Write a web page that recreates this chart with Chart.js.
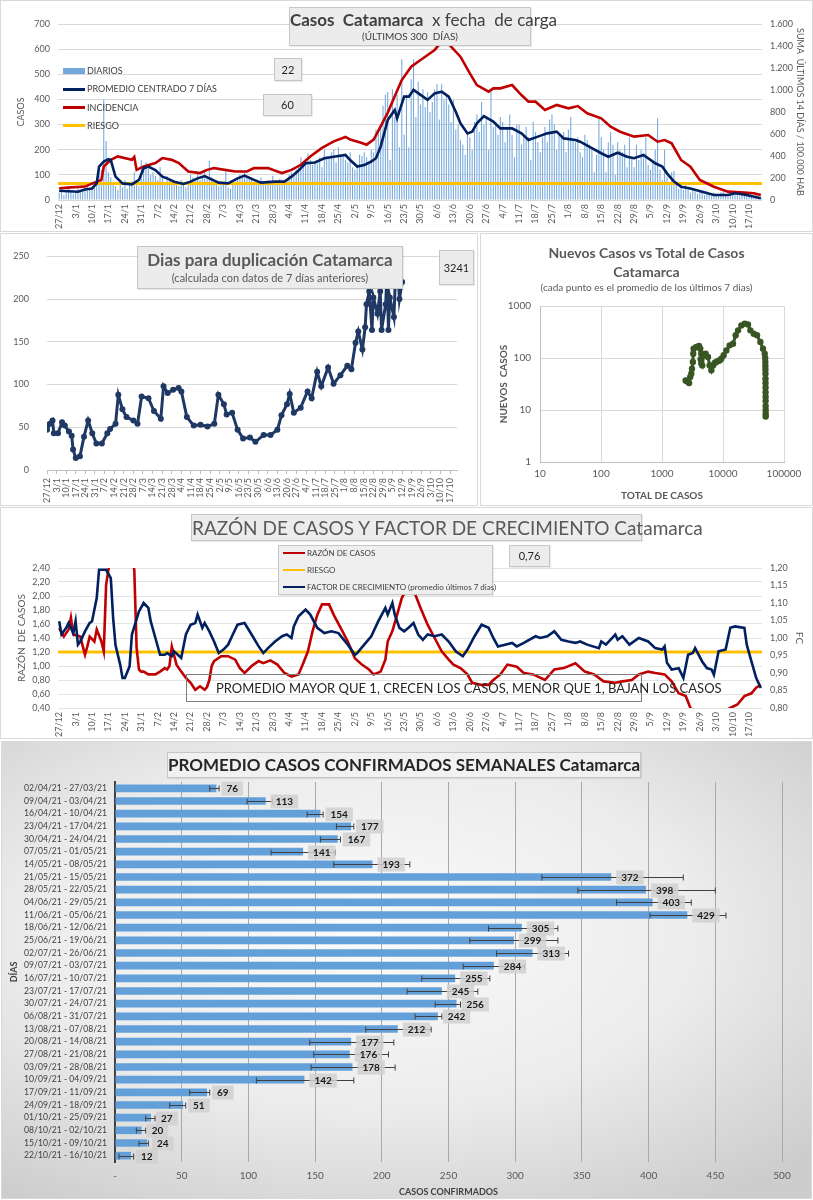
<!DOCTYPE html>
<html lang="es">
<head>
<meta charset="utf-8">
<title>Casos Catamarca</title>
<script src="https://cdn.jsdelivr.net/npm/chart.js@4.4.1/dist/chart.umd.min.js"></script>
<style>
  body { margin: 0; width: 813px; height: 1200px; position: relative; background: #fff; overflow: hidden;
         font-family: Lato, "Open Sans", sans-serif; color: #404040; }
  .panel { position: absolute; background: #fff; outline: 1px solid #d9d9d9; outline-offset: -1px; }
  .panel canvas { position: absolute; left: 0; top: 0; }
  .caja { position: absolute; box-sizing: border-box; background: #ececec; border: 1px solid #c6c6c6;
          text-align: center; white-space: nowrap; box-shadow: 1px 1px 1px rgba(0,0,0,0.08); }
  .txt { position: absolute; white-space: nowrap; }
  .sim { position: absolute; }
  .ley { position: absolute; white-space: nowrap; font-size: 9px; line-height: 10px; color: #404040; }
</style>
</head>
<body>

<div class="panel" style="left:0;top:0;width:813px;height:232px"><canvas id="gCasos" width="813" height="232"></canvas></div>
<div class="panel" style="left:0;top:233px;width:478px;height:273px"><canvas id="gDup" width="478" height="273"></canvas></div>
<div class="panel" style="left:480px;top:233px;width:333px;height:273px"><canvas id="gDisp" width="333" height="273"></canvas></div>
<div class="panel" style="left:0;top:507px;width:813px;height:232px"><canvas id="gRazon" width="813" height="232"></canvas></div>
<div class="panel" style="left:1px;top:741px;width:811px;height:458px;background:radial-gradient(ellipse 75% 70% at 45% 42%, #fbfbfb 0%, #ececec 55%, #cdcdcd 100%)"><canvas id="gSem" width="811" height="458"></canvas></div>

<!-- grafico 1 -->
<div class="caja" style="left:289px;top:7px;width:242px;height:39px">
  <div style="font-size:17px;line-height:20px;margin-top:2px;color:#404040"><b>Casos&nbsp; Catamarca</b>&nbsp; x fecha&nbsp; de carga</div>
  <div style="font-size:10px;line-height:12px">(ÚLTIMOS 300&nbsp; DÍAS)</div>
</div>
<div class="caja" style="left:274px;top:58px;width:28px;height:23px;font-size:11px;line-height:21px;color:#262626">22</div>
<div class="caja" style="left:263px;top:94px;width:49px;height:22px;font-size:11px;line-height:20px;color:#262626">60</div>
<div class="sim" style="left:63px;top:68px;width:22px;height:6px;background:#74a8dc"></div>
<div class="ley" style="left:87px;top:66px">DIARIOS</div>
<div class="sim" style="left:63px;top:88px;width:22px;height:3px;background:#002060"></div>
<div class="ley" style="left:87px;top:84px">PROMEDIO CENTRADO 7 DÍAS</div>
<div class="sim" style="left:63px;top:106px;width:22px;height:3px;background:#c00000"></div>
<div class="ley" style="left:87px;top:103px">INCIDENCIA</div>
<div class="sim" style="left:63px;top:124px;width:22px;height:3px;background:#ffc000"></div>
<div class="ley" style="left:87px;top:121px">RIESGO</div>

<!-- grafico 2 -->
<div class="caja" style="left:137px;top:246px;width:266px;height:43px;color:#595959">
  <div style="font-size:17px;line-height:22px;margin-top:2px;font-weight:bold">Dias para duplicación Catamarca</div>
  <div style="font-size:11px;line-height:13px">(calculada con datos de 7 días anteriores)</div>
</div>
<div class="caja" style="left:439px;top:250px;width:35px;height:35px;font-size:11px;line-height:33px;color:#262626">3241</div>

<!-- grafico 3 -->
<div class="txt" style="left:480px;width:333px;top:244px;text-align:center;font-size:14px;line-height:18px;font-weight:bold;color:#595959">Nuevos Casos vs Total de Casos</div>
<div class="txt" style="left:480px;width:333px;top:263px;text-align:center;font-size:14px;line-height:18px;font-weight:bold;color:#595959">Catamarca</div>
<div class="txt" style="left:480px;width:333px;top:281px;text-align:center;font-size:10px;line-height:12px;color:#595959">(cada punto es el promedio de los últimos 7 dias)</div>

<!-- grafico 4 -->
<div class="caja" style="left:191px;top:514px;width:451px;height:27px;font-size:19px;line-height:25px;color:#595959">RAZÓN DE CASOS Y FACTOR DE CRECIMIENTO Catamarca</div>
<div class="caja" style="left:278px;top:545px;width:215px;height:50px;background:#efefef"></div>
<div class="sim" style="left:283px;top:552px;width:22px;height:2px;background:#c00000"></div>
<div class="ley" style="left:307px;top:548px;font-size:8px">RAZÓN DE CASOS</div>
<div class="sim" style="left:283px;top:569px;width:22px;height:2px;background:#ffc000"></div>
<div class="ley" style="left:307px;top:565px;font-size:8px">RIESGO</div>
<div class="sim" style="left:283px;top:586px;width:22px;height:2px;background:#002060"></div>
<div class="ley" style="left:307px;top:582px;font-size:8px">FACTOR DE CRECIMIENTO (promedio últimos 7 dias)</div>
<div class="caja" style="left:509px;top:545px;width:41px;height:22px;font-size:11px;line-height:20px;color:#262626">0,76</div>
<div class="txt" style="left:186px;top:674px;width:456px;height:28px;box-sizing:border-box;border:1px solid #7f7f7f;font-size:13px;line-height:26px;padding-left:29px;color:#262626">PROMEDIO MAYOR QUE 1, CRECEN LOS CASOS, MENOR QUE 1, BAJAN LOS CASOS</div>

<!-- grafico 5 -->
<div class="caja" style="left:167px;top:752px;width:474px;height:26px;font-size:17px;line-height:24px;font-weight:bold;color:#262626;background:rgba(242,242,242,0.85)">PROMEDIO CASOS CONFIRMADOS SEMANALES Catamarca</div>

<script>
// etiquetas semanales del eje de fechas (día 0 = 27/12)
const semanas = ['27/12','3/1','10/1','17/1','24/1','31/1','7/2','14/2','21/2','28/2','7/3','14/3','21/3','28/3',
  '4/4','11/4','18/4','25/4','2/5','9/5','16/5','23/5','30/5','6/6','13/6','20/6','27/6','4/7','11/7','18/7',
  '25/7','1/8','8/8','15/8','22/8','29/8','5/9','12/9','19/9','26/9','3/10','10/10','17/10'];

// casos diarios (300 días)
const diarios = [
  30,45,20,40,55,35,25,  30,55,40,35,50,60,45,  50,60,90,130,120,400,235,  110,90,60,55,40,70,50,
  80,45,60,75,110,65,55,  160,120,150,140,100,110,95,  80,130,90,65,95,85,70,  75,60,55,80,70,50,65,
  100,90,75,110,80,95,115,  85,155,90,60,70,55,65,  60,115,50,45,80,75,85,  100,95,110,90,85,80,70,
  60,75,90,65,75,80,70,  95,70,60,85,70,75,80,  100,110,95,120,130,170,140,  150,185,160,140,150,145,170,
  130,200,175,165,190,200,150,  210,180,175,160,150,190,130,  120,140,180,175,190,170,150,
  200,190,280,270,300,375,420,  430,160,440,330,420,210,560,  260,420,210,480,560,330,470,
  380,440,370,430,350,390,440,  460,320,460,400,420,380,310,  400,280,300,240,220,180,260,
  250,200,310,340,270,390,300,  330,200,440,290,300,260,330,  310,230,280,340,260,170,300,
  300,220,260,290,250,160,310,  270,230,190,250,290,230,320,  340,300,200,260,250,270,190,
  280,330,240,230,250,190,170,  260,240,220,200,110,180,330,  250,200,110,230,270,220,100,
  230,200,190,220,130,250,170,  130,220,160,200,180,250,140,  120,160,200,325,120,80,200,
  90,60,110,115,70,45,50,  40,60,50,30,45,35,25,  40,30,20,35,25,15,30,  25,20,30,35,20,15,25,
  30,20,25,15,35,25,20,  20,15,10,25,10,12];

// [día, valor]
const promedio7 = [[0,37],[8,33],[11,42],[14,46],[16,66],[17,133],[19,153],[21,162],[22,159],[24,93],[27,66],[31,62],
  [34,80],[36,126],[38,133],[41,119],[44,93],[46,86],[49,73],[53,64],[56,73],[59,86],[62,95],[64,86],[68,69],[72,66],
  [76,86],[79,97],[83,80],[86,69],[92,73],[96,73],[99,93],[102,117],[105,146],[109,149],[113,166],[117,172],[122,179],
  [124,159],[127,133],[130,139],[133,153],[135,166],[137,212],[140,318],[143,358],[144,325],[147,411],[149,411],
  [151,438],[154,418],[157,398],[160,424],[163,431],[166,411],[169,351],[171,305],[174,265],[176,272],[178,305],
  [181,334],[185,312],[188,285],[193,285],[197,265],[200,239],[204,252],[208,265],[212,272],[215,245],[220,239],
  [222,232],[227,206],[231,186],[234,172],[238,188],[242,172],[245,166],[249,179],[254,146],[257,133],[259,106],
  [262,73],[265,53],[269,46],[274,33],[279,20],[285,20],[288,27],[293,20],[299,7]];

const incidencia = [[0,107],[5,115],[11,122],[15,158],[18,183],[19,305],[22,365],[25,396],[31,365],[32,391],[33,274],
  [36,305],[41,336],[44,381],[48,365],[51,336],[55,259],[60,245],[63,274],[66,290],[75,259],[80,259],[83,290],[89,290],
  [93,259],[95,245],[99,274],[103,320],[107,396],[112,473],[117,533],[122,573],[124,549],[129,519],[131,503],[134,549],
  [137,670],[140,793],[143,944],[146,1090],[150,1212],[154,1273],[160,1364],[163,1440],[165,1450],[167,1394],[171,1303],
  [175,1151],[178,1045],[183,985],[185,1015],[188,1015],[193,1045],[197,954],[200,894],[203,894],[207,818],[212,864],
  [217,833],[221,854],[225,788],[231,742],[235,667],[239,621],[245,576],[251,591],[255,530],[258,545],[261,515],
  [265,364],[269,303],[273,182],[279,121],[285,76],[292,67],[296,61],[299,45]];
const riesgoIncidencia = 150;

const duplicacion = [[0,47],[2,54],[4,58],[5,43],[8,43],[11,56],[13,52],[16,45],[18,40],[19,24],[21,14],[24,16],[27,39],
  [30,58],[33,43],[36,31],[40,31],[44,43],[46,48],[50,54],[52,88],[55,71],[58,62],[63,58],[66,54],[69,86],[74,84],
  [78,69],[83,60],[85,98],[88,90],[92,94],[96,96],[98,92],[102,62],[107,52],[112,53],[117,51],[122,54],[125,88],
  [129,77],[131,65],[135,67],[139,47],[143,37],[148,38],[152,33],[158,41],[163,41],[168,47],[171,64],[175,77],
  [177,89],[180,67],[185,73],[190,92],[193,84],[197,115],[200,98],[205,120],[209,101],[214,111],[219,122],[222,118],
  [225,149],[227,162],[230,141],[232,167],[233,194],[235,209],[237,164],[238,202],[241,183],[243,209],[244,164],
  [247,194],[248,232],[249,164],[250,202],[253,179],[255,260],[257,200],[259,220]];

const totalCasos = [2440,2560,2660,2780,2900,3020,3100,3210,3250,3300,3650,4040,4240,4400,4300,4400,4570,4820,5190,
  5670,6040,6440,6850,7300,7770,8300,8820,9390,10250,11340,12860,14600,16140,17660,20000,22700,25700,28100,31900,
  36100,41000,45300,48300,49200,49400,49500,49600,49700,49750,49800,49850,49900,49950,50000,50030,50060,50100,50120];
const nuevosCasos = [37,36,35,33,43,50,62,84,121,151,163,170,151,121,95,78,72,113,121,105,72,58,72,80,84,88,90,97,
  113,140,175,188,273,340,424,458,443,340,293,273,203,151,121,100,84,70,60,50,40,33,27,22,18,15,12,10,8.5,7.5];
const ticksTotal = [10,100,1000,10000,100000];
const ticksNuevos = [1,10,100,1000];

const razon = [[0,1.54],[2,1.42],[4,1.52],[5,1.69],[6,1.45],[9,1.42],[11,1.16],[12,1.28],[13,1.42],[15,1.35],[16,1.52],
  [18,1.35],[19,1.21],[20,2.16],[21,2.38],[23,2.8],[29,2.8],[31,2.5],[32,2.38],[33,1.26],[34,0.95],[35,0.92],[36,0.92],
  [38,0.88],[41,0.88],[43,0.92],[45,0.97],[46,0.95],[47,1.0],[48,1.28],[49,1.15],[50,1.02],[52,0.92],[54,0.83],[56,0.76],
  [58,0.66],[60,0.71],[62,0.66],[63,0.7],[64,0.8],[65,1.0],[66,1.07],[69,1.14],[72,1.14],[75,1.09],[77,0.97],[79,0.9],
  [82,1.0],[85,1.07],[87,1.04],[90,1.08],[93,1.02],[96,0.9],[99,0.85],[102,0.88],[104,1.04],[106,1.21],[108,1.5],
  [110,1.73],[112,1.88],[115,1.88],[117,1.73],[120,1.54],[123,1.35],[126,1.11],[129,1.02],[132,0.95],[134,0.88],
  [137,0.92],[139,1.09],[140,1.35],[142,1.5],[144,1.73],[146,1.97],[148,2.1],[150,2.2],[152,2.0],[154,1.83],[157,1.59],
  [160,1.4],[163,1.21],[166,1.09],[168,1.02],[171,0.97],[174,0.88],[176,0.76],[180,0.73],[183,0.73],[185,0.8],[188,0.88],
  [191,1.02],[195,0.99],[198,0.9],[202,0.88],[207,0.8],[211,0.95],[215,0.97],[220,1.04],[224,0.92],[228,0.88],[232,0.78],
  [237,0.76],[240,0.78],[244,0.8],[247,0.88],[251,0.92],[254,0.9],[258,0.88],[261,0.78],[264,0.61],[267,0.57],[269,0.4],
  [272,0.32],[280,0.3],[286,0.4],[289,0.45],[292,0.57],[295,0.61],[297,0.69],[299,0.73]];

const factorCrec = [[0,1.048],[1,1.01],[3,1.029],[4,1.043],[6,1.014],[7,1.048],[8,0.981],[9,0.99],[11,1.019],[13,1.043],
  [14,1.048],[16,1.114],[17,1.195],[20,1.195],[22,1.171],[23,1.057],[24,0.98],[26,0.924],[27,0.886],[28,0.886],[30,0.919],
  [31,1.01],[34,1.076],[36,1.1],[38,1.086],[39,1.048],[41,1.0],[43,0.952],[45,0.952],[46,0.957],[48,0.948],[49,0.962],
  [52,0.943],[54,1.01],[56,1.038],[58,1.043],[59,1.067],[61,1.029],[62,1.043],[64,1.019],[66,0.99],[68,0.957],[70,0.967],
  [72,0.981],[74,1.01],[76,1.038],[79,1.043],[82,1.01],[85,0.976],[87,0.957],[89,0.971],[92,0.99],[95,1.005],[97,1.01],
  [99,1.0],[100,1.033],[102,1.062],[105,1.081],[107,1.067],[110,1.029],[113,1.014],[116,1.019],[119,1.014],[123,0.981],
  [126,0.952],[127,0.957],[130,0.981],[133,1.005],[136,1.048],[139,1.086],[140,1.067],[142,1.1],[143,1.067],[145,1.029],
  [147,1.019],[149,1.03],[151,1.043],[153,1.01],[155,0.995],[157,1.01],[160,1.005],[163,1.01],[166,0.99],[169,0.962],
  [172,0.948],[174,0.967],[177,1.005],[180,1.038],[183,1.029],[185,1.0],[187,0.976],[190,0.981],[193,0.986],[195,0.976],
  [198,0.986],[203,1.005],[205,1.0],[208,1.005],[211,1.019],[214,0.995],[217,0.99],[220,0.986],[222,0.99],[225,0.981],
  [230,0.971],[231,0.99],[233,0.981],[237,1.01],[238,0.995],[240,1.005],[243,0.981],[247,1.0],[251,0.99],[254,0.971],
  [257,0.967],[258,0.976],[259,0.929],[261,0.91],[264,0.914],[266,0.886],[268,0.952],[270,0.957],[271,0.971],[274,0.933],
  [276,0.914],[278,0.91],[279,0.895],[281,0.962],[284,0.967],[286,1.029],[288,1.033],[292,1.029],[293,0.981],[295,0.933],
  [297,0.886],[299,0.857]];
const riesgoRazon = 1.2;
const ticksRazon = [0.4,0.6,0.8,1.0,1.2,1.4,1.6,1.8,2.0,2.2,2.4];
const ticksFC = [0.80,0.85,0.90,0.95,1.00,1.05,1.10,1.15,1.20];

// promedios semanales
const semanasBarras = ['02/04/21 - 27/03/21','09/04/21 - 03/04/21','16/04/21 - 10/04/21','23/04/21 - 17/04/21',
  '30/04/21 - 24/04/21','07/05/21 - 01/05/21','14/05/21 - 08/05/21','21/05/21 - 15/05/21','28/05/21 - 22/05/21',
  '04/06/21 - 29/05/21','11/06/21 - 05/06/21','18/06/21 - 12/06/21','25/06/21 - 19/06/21','02/07/21 - 26/06/21',
  '09/07/21 - 03/07/21','16/07/21 - 10/07/21','23/07/21 - 17/07/21','30/07/21 - 24/07/21','06/08/21 - 31/07/21',
  '13/08/21 - 07/08/21','20/08/21 - 14/08/21','27/08/21 - 21/08/21','03/09/21 - 28/08/21','10/09/21 - 04/09/21',
  '17/09/21 - 11/09/21','24/09/21 - 18/09/21','01/10/21 - 25/09/21','08/10/21 - 02/10/21','15/10/21 - 09/10/21',
  '22/10/21 - 16/10/21'];
const promedios = [76,113,154,177,167,141,193,372,398,403,429,305,299,313,284,255,245,256,242,212,177,176,178,142,69,51,27,20,24,12];
const errBajo = [71,99,144,166,154,117,164,320,347,376,401,280,266,286,261,230,219,240,225,188,146,149,147,106,56,41,23,16,18,3];
const errAlto = [78,118,156,179,169,165,221,426,450,432,458,332,332,340,307,281,272,259,245,237,209,205,210,179,71,53,30,23,25,14];

Chart.defaults.font.family = 'Lato, "Open Sans", sans-serif';
Chart.defaults.color = '#595959';
Chart.defaults.animation = false;
Chart.defaults.responsive = false;
Chart.defaults.plugins.legend.display = false;
Chart.defaults.plugins.tooltip.enabled = false;

const pares = arr => arr.map(([x, y]) => ({ x, y }));
const fijarAncho = w => s => { s.width = w; };
const fijarAlto = h => s => { s.height = h; };
const ticksFijos = vals => s => { s.ticks = vals.map(v => ({ value: v })); };
const ticksSemanales = ticksFijos(semanas.map((_, i) => i * 7));
const miles = v => v >= 1000 ? Math.floor(v / 1000) + '.' + String(v % 1000).padStart(3, '0') : String(v);
const coma = v => v.toFixed(2).replace('.', ',');

const ejeFechas = alto => ({
  type: 'linear', min: -0.5, max: 299.5, offset: false,
  grid: { display: false, drawTicks: false }, border: { display: false },
  afterBuildTicks: ticksSemanales, afterFit: fijarAlto(alto),
  ticks: { autoSkip: false, minRotation: 90, maxRotation: 90, padding: 4, font: { size: 9 }, callback: (v, i) => semanas[i] }
});

// Casos x fecha de carga
new Chart(document.getElementById('gCasos'), {
  type: 'bar',
  data: {
    datasets: [
      { type: 'line', data: pares(promedio7), yAxisID: 'y', borderColor: '#002060', borderWidth: 2.6, pointRadius: 0, order: 1 },
      { type: 'line', data: pares(incidencia), yAxisID: 'y2', borderColor: '#c00000', borderWidth: 2.6, pointRadius: 0, order: 2 },
      { type: 'line', data: [{ x: -0.5, y: riesgoIncidencia }, { x: 299.5, y: riesgoIncidencia }], yAxisID: 'y2',
        borderColor: '#ffc000', borderWidth: 3, pointRadius: 0, order: 3 },
      { data: diarios.map((v, i) => ({ x: i, y: v })), yAxisID: 'y', backgroundColor: '#74a8dc',
        barPercentage: 0.45, categoryPercentage: 1, order: 4 }
    ]
  },
  options: {
    layout: { padding: { left: 12, right: 4, top: 24, bottom: 0 } },
    scales: {
      x: ejeFechas(32),
      y: { position: 'left', min: 0, max: 700, ticks: { stepSize: 100, padding: 8, font: { size: 9 } },
           grid: { color: '#d9d9d9', drawTicks: false }, border: { display: false },
           title: { display: true, text: 'CASOS', font: { size: 9 } }, afterFit: fijarAncho(46) },
      y2: { position: 'right', min: 0, max: 1600, ticks: { stepSize: 200, padding: 8, font: { size: 9 }, callback: miles },
            grid: { display: false, drawTicks: false }, border: { display: false },
            title: { display: true, text: 'SUMA  ÚLTIMOS 14 DÍAS / 100.000 HAB', font: { size: 9 } }, afterFit: fijarAncho(47) }
    }
  }
});

// Dias para duplicacion
new Chart(document.getElementById('gDup'), {
  type: 'line',
  data: { datasets: [{ data: pares(duplicacion), borderColor: '#1f3864', backgroundColor: '#1f3864',
                       borderWidth: 3, pointRadius: 3, pointBorderWidth: 0 }] },
  options: {
    layout: { padding: { left: 10, right: 21, top: 16, bottom: 0 } },
    scales: {
      x: Object.assign(ejeFechas(36), { min: 0, max: 299,
           grid: { display: true, drawOnChartArea: false, color: '#bfbfbf', tickLength: 4 },
           border: { display: true, color: '#bfbfbf' } }),
      y: { min: 0, max: 250, ticks: { stepSize: 50, padding: 18, font: { size: 9 } },
           grid: { color: '#d9d9d9', drawTicks: false }, border: { display: false }, afterFit: fijarAncho(37) }
    }
  }
});

// Nuevos casos vs total de casos
new Chart(document.getElementById('gDisp'), {
  type: 'line',
  data: { datasets: [{ data: totalCasos.map((t, i) => ({ x: t, y: nuevosCasos[i] })), borderColor: '#375623',
                       backgroundColor: '#375623', borderWidth: 3, pointRadius: 3.2, pointBorderWidth: 0 }] },
  options: {
    layout: { padding: { left: 14, right: 29, top: 73, bottom: 4 } },
    scales: {
      x: { type: 'logarithmic', min: 10, max: 100000, afterBuildTicks: ticksFijos(ticksTotal),
           ticks: { callback: v => String(v), padding: 6, font: { size: 10 } },
           grid: { color: '#d9d9d9', drawTicks: false }, border: { color: '#bfbfbf' },
           title: { display: true, text: 'TOTAL DE CASOS', font: { size: 10, weight: 'bold' }, padding: { top: 4, bottom: 0 } },
           afterFit: fijarAlto(40) },
      y: { type: 'logarithmic', min: 1, max: 1000, afterBuildTicks: ticksFijos(ticksNuevos),
           ticks: { callback: v => String(v), padding: 9, font: { size: 10 } },
           grid: { color: '#d9d9d9', drawTicks: false }, border: { color: '#bfbfbf' },
           title: { display: true, text: 'NUEVOS  CASOS', font: { size: 10, weight: 'bold' } }, afterFit: fijarAncho(46) }
    }
  }
});

// Razon de casos y factor de crecimiento
new Chart(document.getElementById('gRazon'), {
  type: 'line',
  data: {
    datasets: [
      { data: pares(factorCrec), yAxisID: 'y2', borderColor: '#002060', borderWidth: 2.6, pointRadius: 0, order: 1 },
      { data: pares(razon), yAxisID: 'y', borderColor: '#c00000', borderWidth: 2.6, pointRadius: 0, order: 2 },
      { data: [{ x: -0.5, y: riesgoRazon }, { x: 299.5, y: riesgoRazon }], yAxisID: 'y',
        borderColor: '#ffc000', borderWidth: 3, pointRadius: 0, order: 3 }
    ]
  },
  options: {
    layout: { padding: { left: 12, right: 4, top: 61, bottom: 0 } },
    scales: {
      x: ejeFechas(31),
      y: { position: 'left', min: 0.4, max: 2.4, afterBuildTicks: ticksFijos(ticksRazon),
           ticks: { padding: 8, font: { size: 9 }, callback: coma },
           grid: { color: '#e3e3e3', drawTicks: false }, border: { display: false },
           title: { display: true, text: 'RAZÓN  DE CASOS', font: { size: 10 } }, afterFit: fijarAncho(46) },
      y2: { position: 'right', min: 0.8, max: 1.2, afterBuildTicks: ticksFijos(ticksFC),
            ticks: { padding: 8, font: { size: 9 }, callback: coma },
            grid: { display: false, drawTicks: false }, border: { display: false },
            title: { display: true, text: 'FC', font: { size: 10 } }, afterFit: fijarAncho(47) }
    }
  }
});

// barras de error y etiquetas de valor
const erroresYEtiquetas = {
  id: 'erroresYEtiquetas',
  afterDatasetsDraw(chart) {
    const { ctx, scales: { x, y } } = chart;
    ctx.save();
    promedios.forEach((v, i) => {
      const yc = Math.round(y.getPixelForValue(i)) + 0.5;
      const x0 = x.getPixelForValue(errBajo[i]), x1 = x.getPixelForValue(errAlto[i]);
      ctx.strokeStyle = '#404040';
      ctx.lineWidth = 1;
      ctx.beginPath();
      ctx.moveTo(x0, yc); ctx.lineTo(x1, yc);
      ctx.moveTo(x0, yc - 3); ctx.lineTo(x0, yc + 3);
      ctx.moveTo(x1, yc - 3); ctx.lineTo(x1, yc + 3);
      ctx.stroke();
      const xe = x.getPixelForValue(v);
      ctx.font = 'bold 10px Lato, sans-serif';
      const t = String(v), w = ctx.measureText(t).width + 10;
      ctx.fillStyle = 'rgba(208,208,208,0.85)';
      ctx.fillRect(xe + 5, yc - 7, w, 14);
      ctx.fillStyle = '#1a1a1a';
      ctx.textAlign = 'center';
      ctx.textBaseline = 'middle';
      ctx.fillText(t, xe + 5 + w / 2, yc + 0.5);
    });
    ctx.restore();
  }
};

// Promedio casos confirmados semanales
new Chart(document.getElementById('gSem'), {
  type: 'bar',
  data: { labels: semanasBarras,
          datasets: [{ data: promedios, backgroundColor: '#63a0d9', categoryPercentage: 1, barPercentage: 0.6 }] },
  options: {
    indexAxis: 'y',
    layout: { padding: { left: 4, right: 30, top: 41, bottom: 0 } },
    scales: {
      x: { min: 0, max: 500, ticks: { stepSize: 50, padding: 8, font: { size: 10 }, callback: v => v === 0 ? '-' : v },
           grid: { color: '#a9a9a9', drawTicks: false }, border: { display: false },
           title: { display: true, text: 'CASOS CONFIRMADOS', color: '#404040', font: { size: 9, weight: 'bold' }, padding: { top: 2, bottom: 2 } },
           afterFit: fijarAlto(37) },
      y: { grid: { display: false, drawTicks: false }, border: { color: '#404040', width: 2 },
           ticks: { autoSkip: false, padding: 8, color: '#404040', font: { size: 8.6 } },
           title: { display: true, text: 'DÍAS', color: '#404040', font: { size: 9, weight: 'bold' } },
           afterFit: fijarAncho(110) }
    }
  },
  plugins: [erroresYEtiquetas]
});
</script>
</body>
</html>
